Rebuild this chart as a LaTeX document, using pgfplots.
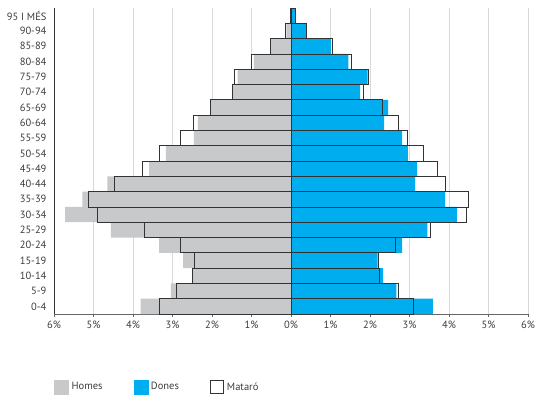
\documentclass[border=0pt]{standalone}
\usepackage{pgfplots}
\usepackage{pgfplotstable}
\pgfplotsset{compat=1.18}
\usepackage{fontspec}
\setmainfont{PT Sans}
\definecolor{homes}{HTML}{C8C9CB}
\definecolor{dones}{HTML}{00AEEF}
\definecolor{edge}{HTML}{333333}
\definecolor{txt}{HTML}{3C3C3C}
\definecolor{gridc}{HTML}{D9D9D9}

% y: 0 = 0-4 ... 19 = 95 i mes ; hom/mm = men (left), don/mw = women (right), in %
\pgfplotstableread{
y  hom   mm    don   mw
0  3.81  3.33  3.59  3.10
1  3.04  2.90  2.67  2.72
2  2.50  2.50  2.33  2.25
3  2.73  2.45  2.19  2.21
4  3.34  2.79  2.81  2.65
5  4.56  3.72  3.45  3.54
6  5.72  4.89  4.20  4.45
7  5.28  5.13  3.90  4.48
8  4.65  4.46  3.14  3.91
9  3.59  3.75  3.19  3.71
10 3.17  3.33  2.96  3.34
11 2.46  2.79  2.81  2.95
12 2.36  2.46  2.36  2.73
13 2.04  2.04  2.46  2.31
14 1.48  1.49  1.75  1.84
15 1.35  1.43  1.94  1.97
16 0.94  1.00  1.45  1.53
17 0.52  0.53  1.01  1.04
18 0.12  0.13  0.40  0.40
19 0.01  0.01  0.10  0.12
}\data

\begin{document}
\begin{tikzpicture}
\useasboundingbox (-54pt,-94pt) rectangle (481pt,314pt);
\begin{axis}[
  at={(0,0)}, anchor=south west,
  width=474pt, height=306pt, scale only axis,
  xmin=-6, xmax=6, ymin=-0.5, ymax=19.5,
  axis x line*=bottom, axis y line*=left,
  x axis line style={-, draw=black!60, line width=0.8pt},
  y axis line style={-, draw=edge, line width=0.9pt},
  xtick={-6,-5,-4,-3,-2,-1,0,1,2,3,4,5,6},
  xticklabels={6\%,5\%,4\%,3\%,2\%,1\%,0\%,1\%,2\%,3\%,4\%,5\%,6\%},
  ytick={0,...,19},
  yticklabels={0-4,5-9,10-14,15-19,20-24,25-29,30-34,35-39,40-44,45-49,50-54,55-59,60-64,65-69,70-74,75-79,80-84,85-89,90-94,95 I MÉS},
  tick align=outside,
  major tick length=3pt,
  xtick style={draw=black!60, line width=0.7pt},
  ytick style={draw=none},
  xmajorgrids,
  major grid style={gridc, line width=0.9pt},
  tick label style={font=\fontsize{10.5}{12}\selectfont, text=txt},
  yticklabel style={xshift=-1pt},
  legend columns=3,
  legend cell align=left,
  legend style={at={(axis description cs:0,-0.2386)}, anchor=west, draw=none, fill=none,
    inner sep=0pt, font=\fontsize{10.5}{12}\selectfont, text=txt,
    /tikz/every even column/.append style={column sep=29pt},
    /tikz/every odd column/.append style={column sep=1pt}},
]
\addplot[xbar, bar width=1, bar shift=0pt, fill=homes, draw=none, forget plot]
  table[x expr=-\thisrow{hom}, y=y]{\data};
\addplot[xbar, bar width=1, bar shift=0pt, fill=dones, draw=none, forget plot]
  table[x=don, y=y]{\data};
\addplot[xbar, bar width=1, bar shift=0pt, fill=none, draw=edge, line width=0.8pt, forget plot]
  table[x expr=-\thisrow{mm}, y=y]{\data};
\addplot[xbar, bar width=1, bar shift=0pt, fill=none, draw=edge, line width=0.8pt, forget plot]
  table[x=mw, y=y]{\data};

\addlegendimage{legend image code/.code={\fill[homes] (0pt,-7pt) rectangle (14pt,7pt);}}
\addlegendentry{Homes}
\addlegendimage{legend image code/.code={\fill[dones] (0pt,-7pt) rectangle (14pt,7pt);}}
\addlegendentry{Dones}
\addlegendimage{legend image code/.code={\draw[edge, line width=0.8pt, fill=white] (0.4pt,-6.6pt) rectangle (13.6pt,6.6pt);}}
\addlegendentry{Mataró}
\end{axis}
\end{tikzpicture}
\end{document}
